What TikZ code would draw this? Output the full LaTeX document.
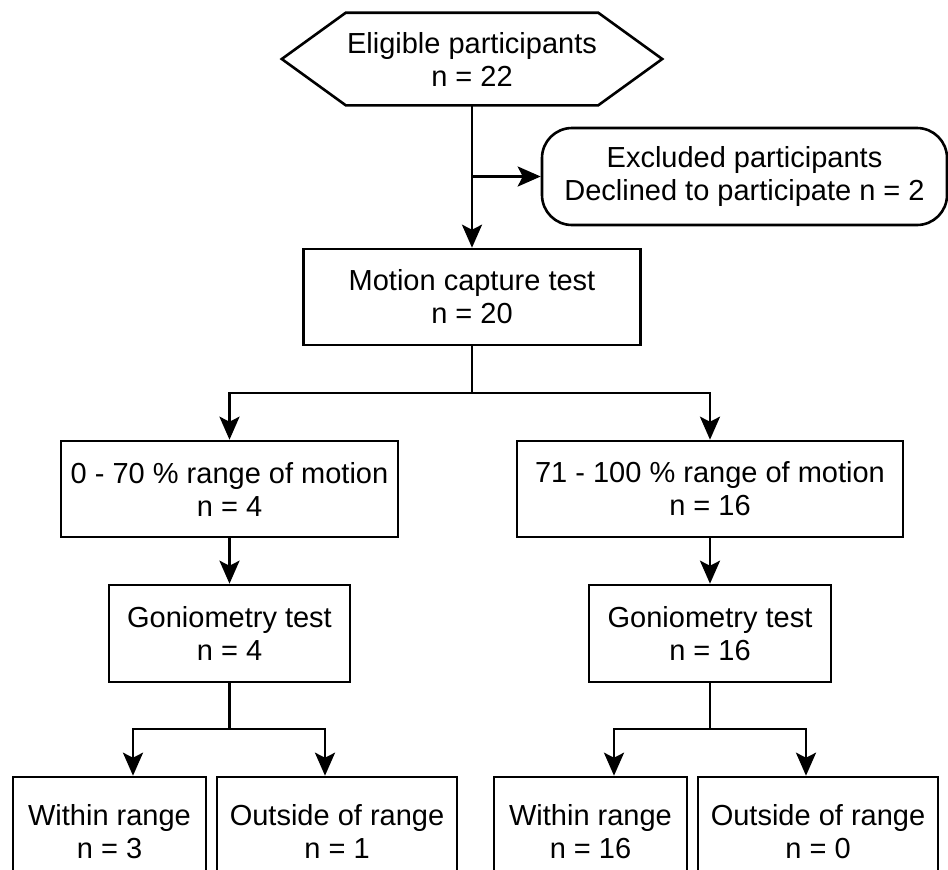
\documentclass[tikz,border=0pt]{standalone}
\usepackage{fontspec}
\setmainfont{Liberation Sans}
\usetikzlibrary{arrows.meta,positioning}

\begin{document}
\begin{tikzpicture}[x=0.5pt,y=-0.5pt,
  box/.style={draw,line width=1.3pt,align=center,inner sep=0pt,font=\fontsize{14.5pt}{16.5pt}\selectfont},
  arr/.style={line width=1.3pt,-{Stealth[length=11.5pt,width=10pt,inset=2.5pt]}},
  ln/.style={line width=1.3pt}]
  \useasboundingbox (0,0) rectangle (948,869);
  \clip (0,0) rectangle (948,869);

  \node[box,draw=none,minimum width=103pt,minimum height=45pt] (elig) at (472,59) {Eligible participants\\n = 22};
  \draw[ln] (elig.north west) -- (elig.north east) -- ([xshift=32pt]elig.east) -- (elig.south east)
            -- (elig.south west) -- ([xshift=-32pt]elig.west) -- cycle;
  \node[box,rounded corners=15pt,minimum width=202.5pt,minimum height=48.5pt] (excl) at (744.5,176.5) {Excluded participants\\Declined to participate n = 2};

  \node[box,minimum width=168.5pt,minimum height=48pt] (motion) at (472,297) {Motion capture test\\n = 20};
  \node[box,minimum width=168.5pt,minimum height=48pt] (low) at (229.5,489) {0 - 70 \% range of motion\\n = 4};
  \node[box,minimum width=193pt,minimum height=48pt] (high) at (710,489) {71 - 100 \% range of motion\\n = 16};

  \node[box,minimum width=120.5pt,minimum height=48.5pt] (gonlow) at (229.5,633.5) {Goniometry test\\n = 4};
  \node[box,minimum width=121pt,minimum height=48.5pt] (gonhigh) at (710,633.5) {Goniometry test\\n = 16};

  \node[box,minimum width=96.5pt,minimum height=54.5pt] (wl) at (109.5,831.5) {Within range\\n = 3};
  \node[box,minimum width=120pt,minimum height=54.5pt] (ol) at (337,831.5) {Outside of range\\n = 1};
  \node[box,minimum width=96.5pt,minimum height=54.5pt] (wh) at (590.5,831.5) {Within range\\n = 16};
  \node[box,minimum width=120pt,minimum height=54.5pt] (oh) at (818,831.5) {Outside of range\\n = 0};

  \coordinate (split0) at (elig.south |- excl.west);
  \coordinate (fork1) at (472,393);
  \coordinate (fork2) at (229.5,729);
  \coordinate (fork3) at (710,729);

  \draw[arr] (elig.south) -- (motion.north);
  \draw[arr] (split0) -- (excl.west);
  \draw[ln] (motion.south) -- (fork1);
  \draw[arr] (fork1) -| (low.north);
  \draw[arr] (fork1) -| (high.north);
  \draw[arr] (low.south) -- (gonlow.north);
  \draw[arr] (high.south) -- (gonhigh.north);
  \draw[ln] (gonlow.south) -- (fork2);
  \draw[ln] (gonhigh.south) -- (fork3);
  \draw[arr] (fork2) -| ([xshift=11.75pt]wl.north);
  \draw[arr] (fork2) -| ([xshift=-6pt]ol.north);
  \draw[arr] (fork3) -| ([xshift=11.75pt]wh.north);
  \draw[arr] (fork3) -| ([xshift=-6pt]oh.north);
\end{tikzpicture}
\end{document}
